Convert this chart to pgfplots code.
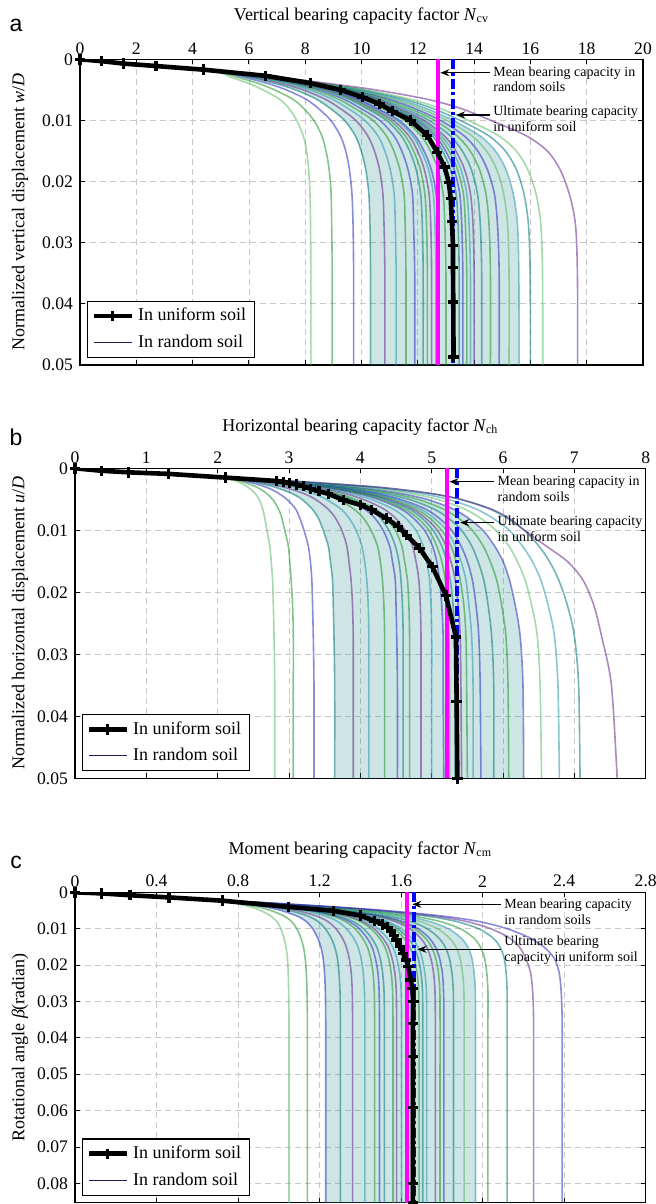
\documentclass[border=0pt]{standalone}
\usepackage{fontspec}
\setmainfont{Liberation Serif}
\newfontfamily\sansA{Liberation Sans}
\usepackage{pgfplots}
\pgfplotsset{compat=1.18}
\usetikzlibrary{arrows.meta}

\definecolor{rb}{RGB}{40,45,190}
\definecolor{rg}{RGB}{30,150,40}
\definecolor{rt}{RGB}{0,120,120}
\definecolor{rp}{RGB}{100,40,140}
\definecolor{rc}{RGB}{40,150,175}
\definecolor{rl}{RGB}{90,185,100}
\definecolor{bandcol}{RGB}{60,150,150}
\definecolor{gridgray}{RGB}{200,200,200}
\definecolor{navy}{RGB}{30,30,90}
\definecolor{magline}{RGB}{255,0,255}

\newcommand{\annfont}{\fontsize{7}{7.8}\selectfont}
\newcommand{\labfont}{\fontsize{9}{11}\selectfont}

% random-soil curves: colour + x values on fixed displacement grids
\def\rA#1#2#3#4#5#6#7#8{\def\rcol{#1}\def\rfirst{(0,0)(2.45,0.001)(#2,0.002)(#3,0.003)(#4,0.004)(#5,0.005)(#6,0.0065)(#7,0.008)(#8,0.01)}\rAb}
\def\rAb#1#2#3#4#5#6#7{\edef\rtmp{\noexpand\addplot[forget plot,rline,color=\rcol] coordinates {\rfirst(#1,0.0125)(#2,0.015)(#3,0.018)(#4,0.022)(#5,0.027)(#6,0.035)(#7,0.05)};}\rtmp}
\def\rB#1#2#3#4#5#6#7#8{\def\rcol{#1}\def\rfirst{(0,0)(0.52,0.0005)(1.44,0.001)(#2,0.0015)(#3,0.002)(#4,0.003)(#5,0.004)(#6,0.005)(#7,0.0065)(#8,0.008)}\rBb}
\def\rBb#1#2#3#4#5#6#7#8{\edef\rtmp{\noexpand\addplot[forget plot,rline,color=\rcol] coordinates {\rfirst(#1,0.01)(#2,0.0125)(#3,0.015)(#4,0.018)(#5,0.022)(#6,0.027)(#7,0.035)(#8,0.05)};}\rtmp}
\def\rC#1#2#3#4#5#6#7#8{\def\rcol{#1}\def\rfirst{(0,0)(0.33,0.001)(#2,0.002)(#3,0.003)(#4,0.004)(#5,0.005)(#6,0.0065)(#7,0.008)(#8,0.01)}\rCb}
\def\rCb#1#2#3#4#5#6#7#8{\edef\rtmp{\noexpand\addplot[forget plot,rline,color=\rcol] coordinates {\rfirst(#1,0.0125)(#2,0.015)(#3,0.018)(#4,0.022)(#5,0.027)(#6,0.035)(#7,0.05)(#8,0.086)};}\rtmp}

\tikzset{
  arr/.style={-{Stealth[length=4.5pt,width=3.5pt]}, line width=0.65pt, black},
  ann/.style={anchor=west, align=left, font=\annfont, inner sep=0pt},
}
\pgfplotsset{
  rline/.style={smooth, tension=0.5, line width=0.8pt, opacity=0.55},
  band/.style={forget plot, sharp plot, draw=none, fill=bandcol, fill opacity=0.25},
  uline/.style={black, line width=2.3pt, mark=+, mark size=2.6pt, mark options={line width=1.6pt, solid}},
  meanline/.style={forget plot, color=magline, line width=2pt},
  ultline/.style={forget plot, blue, line width=2pt, dash pattern=on 5pt off 1.6pt on 1.6pt off 1.6pt},
  base/.style={
    scale only axis, y dir=reverse,
    xtick pos=both, ytick pos=both,
    xticklabel pos=upper,
    tick align=inside, major tick length=2.5pt,
    grid=major, major grid style={gridgray, dash pattern=on 3pt off 2pt, line width=0.4pt},
    axis line style={line width=0.65pt},
    tick style={black, line width=0.5pt},
    tick label style={font=\fontsize{8.8}{10}\selectfont},
    /pgf/number format/assume math mode=true,
    scaled ticks=false,
    yticklabel style={/pgf/number format/fixed, /pgf/number format/precision=2},
    xticklabel style={/pgf/number format/fixed, /pgf/number format/precision=2, yshift=-1pt},
    legend style={at={(0,0)}, anchor=south west, xshift=3.5pt, yshift=3.5pt,
      font=\fontsize{9}{10.5}\selectfont, draw=black, line width=0.6pt,
      inner xsep=2pt, inner ysep=1.5pt, row sep=1.5pt},
    legend cell align=left,
    legend image code/.code={\draw[mark repeat=2,mark phase=2] plot coordinates {(0pt,0pt) (9.5pt,0pt) (19pt,0pt)};},
  }
}

\begin{document}
\begin{tikzpicture}
\useasboundingbox (0,0) rectangle (328pt,-602pt);

% ---------------- panel a ----------------
\node[font=\sansA\fontsize{11.5}{13}\selectfont] at (8pt,-12.5pt) {a};
\node[font=\labfont] at (180.75pt,-8pt) {Vertical bearing capacity factor \textit{N}\textsubscript{cv}};
\node[font=\labfont, rotate=90] at (10pt,-106pt) {Normalized vertical displacement \textit{w}/\textit{D}};
\begin{axis}[base, at={(40pt,-29.65pt)}, anchor=north west, width=281.5pt, height=152.85pt,
  xmin=0, xmax=20, ymin=0, ymax=0.05,
  xtick={0,2,4,6,8,10,12,14,16,18,20}, ytick={0,0.01,0.02,0.03,0.04,0.05}]
\addplot[band] coordinates {(4.88,0.002)(5.08,0.002)(7.11,0.003)(8.6,0.004)(9.91,0.005)(11.31,0.0065)(12.28,0.008)(13.26,0.01)(14.2,0.0125)(14.76,0.015)(15.13,0.018)(15.39,0.022)(15.54,0.027)(15.59,0.035)(15.6,0.05)(10.32,0.05)(10.32,0.035)(10.3,0.027)(10.26,0.022)(10.15,0.018)(9.99,0.015)(9.78,0.0125)(9.4,0.01)(8.88,0.008)(8.39,0.0065)(7.66,0.005)(6.97,0.004)(6.07,0.003)(4.88,0.002)};
\rA{rl}{4.75}{5.4}{6.03}{6.5}{7.08}{7.42}{7.7}{7.93}{8.05}{8.12}{8.17}{8.19}{8.2}{8.2}
\rA{rg}{4.8}{5.64}{6.37}{6.91}{7.55}{7.94}{8.31}{8.59}{8.74}{8.85}{8.92}{8.94}{8.96}{8.96}
\rA{rb}{4.84}{5.88}{6.7}{7.33}{8.02}{8.46}{8.91}{9.25}{9.44}{9.57}{9.66}{9.7}{9.72}{9.72}
\rA{rt}{4.88}{6.07}{6.97}{7.66}{8.39}{8.88}{9.4}{9.78}{9.99}{10.15}{10.26}{10.3}{10.32}{10.32}
\rA{rp}{4.91}{6.23}{7.19}{7.93}{8.7}{9.23}{9.8}{10.22}{10.46}{10.64}{10.76}{10.8}{10.83}{10.83}
\rA{rc}{4.94}{6.36}{7.37}{8.15}{8.95}{9.51}{10.12}{10.58}{10.83}{11.02}{11.16}{11.2}{11.23}{11.23}
\rA{rg}{4.96}{6.47}{7.53}{8.34}{9.17}{9.75}{10.41}{10.88}{11.15}{11.36}{11.51}{11.55}{11.58}{11.58}
\rA{rb}{4.98}{6.57}{7.67}{8.51}{9.36}{9.96}{10.65}{11.15}{11.43}{11.65}{11.81}{11.85}{11.89}{11.89}
\rA{rt}{4.99}{6.66}{7.8}{8.67}{9.54}{10.17}{10.89}{11.41}{11.71}{11.94}{12.1}{12.16}{12.19}{12.19}
\rA{rg}{5.0}{6.71}{7.87}{8.76}{9.64}{10.27}{11.01}{11.55}{11.85}{12.09}{12.25}{12.31}{12.34}{12.34}
\rA{rp}{5.01}{6.76}{7.93}{8.84}{9.73}{10.38}{11.13}{11.68}{11.99}{12.23}{12.4}{12.46}{12.49}{12.49}
\rA{rc}{5.02}{6.81}{8.0}{8.92}{9.83}{10.48}{11.26}{11.81}{12.12}{12.38}{12.55}{12.61}{12.64}{12.64}
\rA{rb}{5.03}{6.84}{8.05}{8.98}{9.89}{10.55}{11.34}{11.9}{12.22}{12.48}{12.65}{12.71}{12.75}{12.75}
\rA{rg}{5.04}{6.92}{8.16}{9.11}{10.04}{10.73}{11.54}{12.12}{12.45}{12.72}{12.9}{12.96}{13.0}{13.0}
\rA{rt}{5.06}{7.01}{8.3}{9.31}{10.31}{11.03}{11.88}{12.52}{12.88}{13.16}{13.36}{13.43}{13.47}{13.47}
\rA{rb}{5.06}{7.02}{8.32}{9.35}{10.37}{11.11}{11.97}{12.62}{12.99}{13.29}{13.49}{13.56}{13.6}{13.6}
\rA{rg}{5.06}{7.02}{8.34}{9.39}{10.43}{11.19}{12.05}{12.73}{13.11}{13.41}{13.62}{13.69}{13.74}{13.74}
\rA{rc}{5.07}{7.03}{8.36}{9.43}{10.49}{11.26}{12.14}{12.83}{13.23}{13.53}{13.74}{13.82}{13.87}{13.87}
\rA{rp}{5.07}{7.03}{8.38}{9.46}{10.56}{11.34}{12.23}{12.94}{13.35}{13.66}{13.87}{13.96}{14.0}{14.0}
\rA{rt}{5.07}{7.05}{8.41}{9.54}{10.68}{11.5}{12.4}{13.15}{13.58}{13.9}{14.12}{14.22}{14.27}{14.27}
\rA{rg}{5.07}{7.06}{8.46}{9.63}{10.83}{11.68}{12.6}{13.39}{13.86}{14.19}{14.42}{14.53}{14.58}{14.58}
\rA{rb}{5.07}{7.07}{8.5}{9.71}{10.98}{11.86}{12.8}{13.64}{14.13}{14.47}{14.72}{14.83}{14.89}{14.89}
\rA{rl}{5.08}{7.09}{8.55}{9.81}{11.15}{12.07}{13.03}{13.92}{14.44}{14.8}{15.05}{15.19}{15.24}{15.24}
\rA{rc}{5.08}{7.11}{8.6}{9.91}{11.31}{12.28}{13.26}{14.2}{14.76}{15.13}{15.39}{15.54}{15.59}{15.6}
\rA{rt}{5.08}{7.12}{8.66}{10.03}{11.5}{12.51}{13.51}{14.52}{15.11}{15.5}{15.77}{15.93}{15.99}{16.0}
\rA{rl}{5.09}{7.14}{8.72}{10.15}{11.71}{12.77}{13.8}{14.87}{15.5}{15.9}{16.2}{16.37}{16.43}{16.44}
\rA{rp}{5.1}{7.2}{8.9}{10.5}{12.3}{13.5}{14.6}{15.85}{16.6}{17.05}{17.38}{17.6}{17.67}{17.68}
\addplot[meanline] coordinates {(12.7,0) (12.7,0.05)};
\addplot[ultline] coordinates {(13.25,0) (13.25,0.05)};
\addplot[uline] coordinates {(0,0) (0.77,0.0003) (1.54,0.0007) (2.7,0.0011) (4.4,0.0017) (6.6,0.0027) (8.18,0.0039) (9.25,0.005) (10.04,0.0062) (10.64,0.0073) (11.1,0.0085) (11.74,0.01) (12.33,0.0124) (12.69,0.0152) (12.95,0.0176) (13.1,0.0201) (13.17,0.0228) (13.21,0.0265) (13.25,0.0304) (13.25,0.034) (13.26,0.0397) (13.27,0.0487)};
\addlegendentry{In uniform soil}
\addlegendimage{navy, line width=0.5pt}
\addlegendentry{In random soil}
\draw[arr] (axis cs:14.55,0.0022) -- (axis cs:12.8,0.0022);
\node[ann] at (axis cs:14.67,0.00325) {Mean bearing capacity in\\random soils};
\draw[arr] (axis cs:14.55,0.0091) -- (axis cs:13.36,0.0091);
\node[ann] at (axis cs:14.67,0.00976) {Ultimate bearing capacity\\in uniform soil};
\end{axis}

% ---------------- panel b ----------------
\node[font=\sansA\fontsize{11.5}{13}\selectfont] at (8pt,-218.85pt) {b};
\node[font=\labfont] at (180.2pt,-213.7pt) {Horizontal bearing capacity factor \textit{N}\textsubscript{ch}};
\node[font=\labfont, rotate=90] at (10pt,-311.5pt) {Normalized horizontal displacement \textit{u}/\textit{D}};
\begin{axis}[base, at={(37.5pt,-234.15pt)}, anchor=north west, width=285.35pt, height=155pt,
  xmin=0, xmax=8, ymin=0, ymax=0.05,
  xtick={0,1,2,3,4,5,6,7,8}, ytick={0,0.01,0.02,0.03,0.04,0.05}]
\addplot[band] coordinates {(2.07,0.0015)(2.11,0.0015)(2.86,0.002)(3.9,0.003)(4.53,0.004)(4.93,0.005)(5.29,0.0065)(5.51,0.008)(5.72,0.01)(5.88,0.0125)(6.0,0.015)(6.09,0.018)(6.17,0.022)(6.24,0.027)(6.28,0.035)(6.29,0.05)(3.64,0.05)(3.64,0.035)(3.63,0.027)(3.62,0.022)(3.61,0.018)(3.58,0.015)(3.55,0.0125)(3.48,0.01)(3.41,0.008)(3.32,0.0065)(3.18,0.005)(3.03,0.004)(2.79,0.003)(2.42,0.002)(2.07,0.0015)};
\rB{rl}{2.05}{2.25}{2.42}{2.52}{2.58}{2.63}{2.66}{2.69}{2.73}{2.75}{2.77}{2.78}{2.79}{2.8}{2.8}
\rB{rg}{2.06}{2.3}{2.54}{2.68}{2.77}{2.85}{2.9}{2.94}{2.99}{3.01}{3.03}{3.05}{3.06}{3.06}{3.06}
\rB{rb}{2.07}{2.36}{2.67}{2.85}{2.97}{3.09}{3.15}{3.21}{3.27}{3.3}{3.32}{3.33}{3.34}{3.35}{3.35}
\rB{rt}{2.07}{2.42}{2.79}{3.03}{3.18}{3.32}{3.41}{3.48}{3.55}{3.58}{3.61}{3.62}{3.63}{3.64}{3.64}
\rB{rp}{2.08}{2.48}{2.91}{3.19}{3.37}{3.54}{3.65}{3.74}{3.81}{3.84}{3.87}{3.89}{3.9}{3.9}{3.9}
\rB{rc}{2.09}{2.52}{3.01}{3.32}{3.52}{3.72}{3.84}{3.94}{4.02}{4.06}{4.09}{4.11}{4.12}{4.12}{4.12}
\rB{rg}{2.09}{2.57}{3.11}{3.45}{3.68}{3.9}{4.04}{4.15}{4.24}{4.28}{4.31}{4.33}{4.34}{4.34}{4.34}
\rB{rb}{2.1}{2.6}{3.18}{3.56}{3.8}{4.05}{4.2}{4.32}{4.41}{4.45}{4.49}{4.5}{4.51}{4.52}{4.52}
\rB{rt}{2.1}{2.62}{3.22}{3.61}{3.87}{4.12}{4.28}{4.4}{4.49}{4.54}{4.57}{4.59}{4.6}{4.6}{4.6}
\rB{rg}{2.1}{2.64}{3.26}{3.66}{3.93}{4.2}{4.35}{4.49}{4.58}{4.62}{4.66}{4.68}{4.69}{4.69}{4.69}
\rB{rp}{2.11}{2.67}{3.33}{3.76}{4.04}{4.32}{4.49}{4.63}{4.73}{4.78}{4.82}{4.84}{4.85}{4.85}{4.85}
\rB{rc}{2.11}{2.7}{3.4}{3.85}{4.15}{4.45}{4.63}{4.78}{4.88}{4.93}{4.97}{4.99}{5.0}{5.0}{5.0}
\rB{rb}{2.11}{2.72}{3.46}{3.94}{4.25}{4.56}{4.74}{4.9}{5.01}{5.07}{5.11}{5.14}{5.16}{5.16}{5.17}
\rB{rg}{2.11}{2.73}{3.5}{3.98}{4.3}{4.61}{4.8}{4.96}{5.07}{5.14}{5.19}{5.22}{5.24}{5.25}{5.25}
\rB{rt}{2.11}{2.74}{3.53}{4.03}{4.35}{4.67}{4.86}{5.02}{5.14}{5.21}{5.26}{5.3}{5.32}{5.33}{5.33}
\rB{rp}{2.11}{2.75}{3.56}{4.07}{4.4}{4.72}{4.91}{5.08}{5.2}{5.27}{5.33}{5.37}{5.4}{5.41}{5.42}
\rB{rg}{2.11}{2.76}{3.59}{4.11}{4.45}{4.77}{4.97}{5.14}{5.27}{5.34}{5.4}{5.45}{5.48}{5.49}{5.5}
\rB{rc}{2.11}{2.77}{3.62}{4.16}{4.5}{4.83}{5.03}{5.21}{5.33}{5.41}{5.48}{5.52}{5.56}{5.58}{5.58}
\rB{rb}{2.11}{2.78}{3.66}{4.21}{4.56}{4.9}{5.1}{5.28}{5.41}{5.5}{5.57}{5.62}{5.66}{5.68}{5.69}
\rB{rt}{2.11}{2.81}{3.74}{4.31}{4.68}{5.02}{5.23}{5.42}{5.56}{5.65}{5.73}{5.79}{5.84}{5.87}{5.87}
\rB{rg}{2.11}{2.83}{3.82}{4.42}{4.8}{5.15}{5.37}{5.57}{5.72}{5.82}{5.91}{5.98}{6.04}{6.07}{6.08}
\rB{rb}{2.11}{2.86}{3.9}{4.53}{4.93}{5.29}{5.51}{5.72}{5.88}{6.0}{6.09}{6.17}{6.24}{6.28}{6.29}
\rB{rl}{2.11}{2.89}{3.99}{4.66}{5.08}{5.45}{5.68}{5.9}{6.08}{6.2}{6.31}{6.4}{6.48}{6.52}{6.54}
\rB{rc}{2.11}{2.92}{4.09}{4.8}{5.23}{5.61}{5.85}{6.09}{6.27}{6.41}{6.53}{6.63}{6.72}{6.77}{6.79}
\rB{rt}{2.11}{2.95}{4.2}{4.95}{5.4}{5.8}{6.05}{6.3}{6.5}{6.65}{6.78}{6.9}{7.0}{7.06}{7.08}
\rB{rp}{2.11}{2.95}{4.2}{4.95}{5.4}{5.82}{6.08}{6.3}{6.6}{6.9}{7.12}{7.27}{7.38}{7.52}{7.6}
\addplot[meanline] coordinates {(5.21,0) (5.21,0.05)};
\addplot[ultline] coordinates {(5.36,0) (5.36,0.05)};
\addplot[uline] coordinates {(0,0) (0.374,0.0004) (0.75,0.00065) (1.31,0.0009) (2.11,0.0015) (2.83,0.00205) (2.92,0.0022) (3.01,0.0024) (3.11,0.0026) (3.2,0.0029) (3.3,0.0033) (3.42,0.0037) (3.55,0.0041) (3.76,0.0051) (4.0,0.0059) (4.16,0.0067) (4.37,0.0081) (4.53,0.0094) (4.65,0.0108) (4.83,0.0129) (5.01,0.0159) (5.2,0.0205) (5.34,0.0272) (5.35,0.0376) (5.36,0.05)};
\addlegendentry{In uniform soil}
\addlegendimage{navy, line width=0.5pt}
\addlegendentry{In random soil}
\draw[arr] (axis cs:5.88,0.00216) -- (axis cs:5.25,0.00216);
\node[ann] at (axis cs:5.92,0.0033) {Mean bearing capacity in\\random soils};
\draw[arr] (axis cs:5.88,0.00877) -- (axis cs:5.4,0.00877);
\node[ann] at (axis cs:5.92,0.00974) {Ultimate bearing capacity\\in uniform soil};
\end{axis}

% ---------------- panel c ----------------
\node[font=\sansA\fontsize{11.5}{13}\selectfont] at (8pt,-431pt) {c};
\node[font=\labfont] at (180.2pt,-425pt) {Moment bearing capacity factor \textit{N}\textsubscript{cm}};
\node[font=\labfont, rotate=90] at (10pt,-523.75pt) {Rotational angle \textit{β}(radian)};
\begin{axis}[base, at={(37.5pt,-446.15pt)}, anchor=north west, width=285.35pt, height=155.2pt,
  xmin=0, xmax=2.8, ymin=0, ymax=0.0853,
  xtick={0,0.4,0.8,1.2,1.6,2,2.4,2.8}, ytick={0,0.01,0.02,0.03,0.04,0.05,0.06,0.07,0.08}]
\addplot[band] coordinates {(0.626,0.002)(0.653,0.002)(0.947,0.003)(1.2,0.004)(1.397,0.005)(1.611,0.0065)(1.738,0.008)(1.832,0.01)(1.893,0.0125)(1.927,0.015)(1.947,0.018)(1.958,0.022)(1.964,0.027)(1.965,0.035)(1.965,0.05)(1.965,0.086)(1.23,0.086)(1.23,0.05)(1.23,0.035)(1.228,0.027)(1.224,0.022)(1.217,0.018)(1.206,0.015)(1.19,0.0125)(1.166,0.01)(1.134,0.008)(1.089,0.0065)(1.012,0.005)(0.932,0.004)(0.816,0.003)(0.626,0.002)};
\rC{rl}{0.62}{0.78}{0.86}{0.91}{0.96}{0.99}{1.01}{1.025}{1.035}{1.042}{1.046}{1.048}{1.05}{1.05}{1.05}
\rC{rg}{0.623}{0.798}{0.896}{0.961}{1.025}{1.062}{1.088}{1.108}{1.121}{1.129}{1.135}{1.138}{1.14}{1.14}{1.14}
\rC{rb}{0.626}{0.816}{0.932}{1.012}{1.089}{1.134}{1.166}{1.19}{1.206}{1.217}{1.224}{1.228}{1.23}{1.23}{1.23}
\rC{rt}{0.628}{0.83}{0.961}{1.053}{1.141}{1.192}{1.228}{1.256}{1.274}{1.287}{1.295}{1.3}{1.302}{1.302}{1.302}
\rC{rp}{0.63}{0.842}{0.985}{1.087}{1.184}{1.24}{1.28}{1.311}{1.331}{1.345}{1.355}{1.36}{1.362}{1.362}{1.362}
\rC{rc}{0.632}{0.854}{1.009}{1.121}{1.227}{1.288}{1.332}{1.366}{1.388}{1.403}{1.414}{1.42}{1.422}{1.422}{1.422}
\rC{rg}{0.634}{0.864}{1.028}{1.148}{1.261}{1.326}{1.374}{1.41}{1.434}{1.45}{1.462}{1.468}{1.47}{1.47}{1.47}
\rC{rb}{0.635}{0.869}{1.038}{1.162}{1.278}{1.345}{1.395}{1.432}{1.457}{1.473}{1.486}{1.492}{1.494}{1.494}{1.494}
\rC{rt}{0.636}{0.874}{1.047}{1.175}{1.295}{1.364}{1.416}{1.454}{1.48}{1.497}{1.509}{1.516}{1.518}{1.518}{1.518}
\rC{rg}{0.637}{0.882}{1.064}{1.199}{1.326}{1.398}{1.452}{1.493}{1.52}{1.538}{1.551}{1.558}{1.56}{1.56}{1.56}
\rC{rp}{0.638}{0.886}{1.071}{1.209}{1.338}{1.412}{1.468}{1.509}{1.537}{1.555}{1.569}{1.576}{1.578}{1.578}{1.578}
\rC{rc}{0.638}{0.89}{1.081}{1.223}{1.356}{1.432}{1.488}{1.531}{1.559}{1.578}{1.592}{1.6}{1.602}{1.602}{1.602}
\rC{rb}{0.64}{0.9}{1.1}{1.25}{1.39}{1.47}{1.53}{1.575}{1.605}{1.625}{1.64}{1.648}{1.65}{1.65}{1.65}
\rC{rg}{0.642}{0.906}{1.112}{1.268}{1.416}{1.502}{1.566}{1.613}{1.643}{1.663}{1.678}{1.686}{1.688}{1.688}{1.688}
\rC{rt}{0.642}{0.908}{1.118}{1.276}{1.43}{1.518}{1.584}{1.632}{1.663}{1.683}{1.697}{1.705}{1.706}{1.706}{1.706}
\rC{rc}{0.643}{0.911}{1.124}{1.285}{1.443}{1.534}{1.602}{1.651}{1.682}{1.702}{1.716}{1.724}{1.725}{1.725}{1.725}
\rC{rp}{0.645}{0.918}{1.138}{1.305}{1.473}{1.57}{1.643}{1.694}{1.725}{1.745}{1.759}{1.766}{1.768}{1.768}{1.768}
\rC{rg}{0.646}{0.921}{1.145}{1.316}{1.489}{1.59}{1.665}{1.718}{1.749}{1.769}{1.783}{1.79}{1.791}{1.791}{1.791}
\rC{rb}{0.647}{0.924}{1.151}{1.325}{1.502}{1.606}{1.683}{1.737}{1.768}{1.788}{1.802}{1.808}{1.81}{1.81}{1.81}
\rC{rt}{0.649}{0.931}{1.166}{1.347}{1.535}{1.646}{1.728}{1.784}{1.816}{1.836}{1.849}{1.856}{1.857}{1.857}{1.857}
\rC{rl}{0.651}{0.939}{1.183}{1.371}{1.572}{1.69}{1.778}{1.836}{1.869}{1.889}{1.901}{1.908}{1.909}{1.909}{1.909}
\rC{rc}{0.653}{0.947}{1.2}{1.397}{1.611}{1.738}{1.832}{1.893}{1.927}{1.947}{1.958}{1.964}{1.965}{1.965}{1.965}
\rC{rg}{0.656}{0.956}{1.22}{1.426}{1.654}{1.79}{1.89}{1.955}{1.989}{2.009}{2.02}{2.026}{2.026}{2.026}{2.026}
\rC{rt}{0.66}{0.97}{1.25}{1.47}{1.72}{1.87}{1.98}{2.05}{2.085}{2.105}{2.115}{2.12}{2.12}{2.12}{2.12}
\rC{rp}{0.66}{0.97}{1.26}{1.5}{1.76}{1.92}{2.04}{2.13}{2.18}{2.21}{2.235}{2.245}{2.25}{2.25}{2.25}
\rC{rb}{0.66}{0.97}{1.27}{1.52}{1.8}{1.98}{2.12}{2.23}{2.3}{2.35}{2.375}{2.385}{2.39}{2.39}{2.39}
\addplot[meanline] coordinates {(1.63,0) (1.63,0.0853)};
\addplot[ultline] coordinates {(1.665,0) (1.665,0.0853)};
\addplot[uline] coordinates {(0,0) (0.131,0.0003) (0.27,0.0008) (0.461,0.0014) (0.723,0.0023) (1.047,0.004) (1.27,0.0051) (1.4,0.0064) (1.47,0.0079) (1.51,0.0088) (1.535,0.0097) (1.55,0.0106) (1.565,0.0118) (1.578,0.0131) (1.595,0.0148) (1.61,0.0168) (1.625,0.0186) (1.636,0.0204) (1.647,0.0241) (1.655,0.0264) (1.66,0.03) (1.658,0.036) (1.658,0.0452) (1.658,0.0592) (1.658,0.08) (1.658,0.0853)};
\addlegendentry{In uniform soil}
\addlegendimage{navy, line width=0.5pt}
\addlegendentry{In random soil}
\draw[arr] (axis cs:2.09,0.0033) -- (axis cs:1.655,0.0033);
\node[ann] at (axis cs:2.105,0.00533) {Mean bearing capacity\\in random soils};
\draw[arr] (axis cs:2.09,0.01566) -- (axis cs:1.68,0.01566);
\node[ann] at (axis cs:2.105,0.0159) {Ultimate bearing\\capacity in uniform soil};
\end{axis}
\end{tikzpicture}
\end{document}
